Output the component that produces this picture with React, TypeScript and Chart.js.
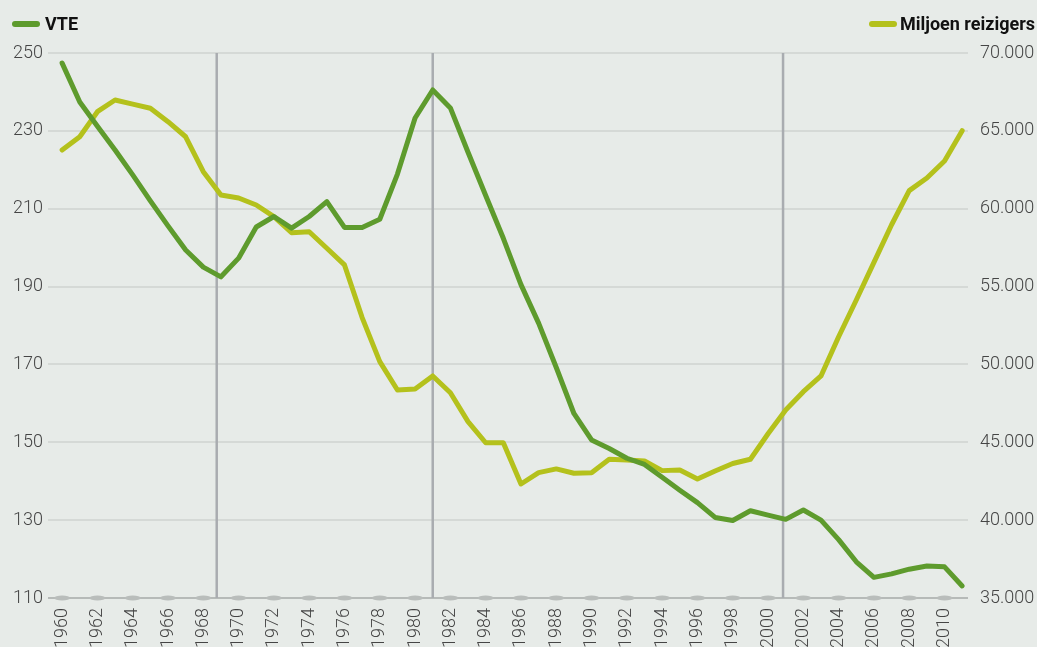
import React, { useEffect, useRef } from "react";
import { Chart, registerables } from "chart.js";

Chart.register(...registerables);

const years = [
  1960, 1961, 1962, 1963, 1964, 1965, 1966, 1967, 1968, 1969,
  1970, 1971, 1972, 1973, 1974, 1975, 1976, 1977, 1978, 1979,
  1980, 1981, 1982, 1983, 1984, 1985, 1986, 1987, 1988, 1989,
  1990, 1991, 1992, 1993, 1994, 1995, 1996, 1997, 1998, 1999,
  2000, 2001, 2002, 2003, 2004, 2005, 2006, 2007, 2008, 2009,
  2010, 2011,
];

const vte = [
  247.4, 237.4, 231.2, 225.1, 218.7, 212.0, 205.6, 199.4, 195.0, 192.5,
  197.3, 205.3, 208.0, 205.0, 208.0, 211.8, 205.2, 205.2, 207.3, 218.9,
  233.3, 240.5, 235.9, 224.5, 213.4, 202.4, 190.5, 180.6, 169.2, 157.4,
  150.6, 148.4, 145.9, 144.3, 141.0, 137.7, 134.5, 130.7, 129.9, 132.4,
  131.3, 130.2, 132.6, 130.0, 125.0, 119.3, 115.3, 116.2, 117.4, 118.2,
  118.0, 113.1,
];

const reizigers = [
  63770, 64620, 66230, 66980, 66720, 66450, 65590, 64620, 62380, 60880,
  60690, 60240, 59490, 58460, 58520, 57460, 56390, 53010, 50180, 48360,
  48420, 49260, 48180, 46330, 44970, 44970, 42320, 43050, 43290, 43010,
  43050, 43910, 43860, 43800, 43180, 43220, 42640, 43160, 43640, 43910,
  45550, 47070, 48250, 49260, 51780, 54140, 56550, 58970, 61160, 61970,
  63060, 65010,
];

const xTickYears = [
  1960, 1962, 1964, 1966, 1968, 1970, 1972, 1974, 1976, 1978, 1980, 1982,
  1984, 1986, 1988, 1990, 1992, 1994, 1996, 1998, 2000, 2002, 2004, 2006,
  2008, 2010,
];

const markerYears = [1968.76, 1981.0, 2000.85];

const seriesNames = ["VTE", "Miljoen reizigers"];

const BG = "#e7ebe8";
const GREEN = "#5e9b2d";
const YELLOW = "#b4c11c";
const TICK_FONT = { family: "Roboto, 'Open Sans', sans-serif", size: 18, weight: "300" as const };

function fmtThousands(v: number): string {
  const s = String(Math.round(v));
  return s.replace(/\B(?=(\d{3})+(?!\d))/g, ".");
}

const decorPlugin = {
  id: "decor",
  beforeDatasetsDraw(chart: any) {
    const { ctx, chartArea, scales } = chart;
    const xs = scales.x;
    const yb = scales.y.getPixelForValue(110);
    ctx.save();
    // baseline tick ellipses
    ctx.fillStyle = "#b9bdbb";
    xTickYears.forEach((yr) => {
      const px = xs.getPixelForValue(yr);
      ctx.beginPath();
      ctx.ellipse(px, yb, 8, 2.6, 0, 0, Math.PI * 2);
      ctx.fill();
    });
    // vertical marker lines
    ctx.strokeStyle = "#a9acb0";
    ctx.lineWidth = 2.5;
    markerYears.forEach((yr) => {
      const px = xs.getPixelForValue(yr);
      ctx.beginPath();
      ctx.moveTo(px, chartArea.top);
      ctx.lineTo(px, chartArea.bottom);
      ctx.stroke();
    });
    ctx.restore();
  },
};

export default function App() {
  const canvasRef = useRef<HTMLCanvasElement | null>(null);

  useEffect(() => {
    document.body.style.margin = "0";
    document.body.style.background = BG;
    const canvas = canvasRef.current;
    if (!canvas) return;
    const chart = new Chart(canvas, {
      type: "line",
      data: {
        datasets: [
          {
            label: seriesNames[0],
            data: years.map((yr, i) => ({ x: yr, y: vte[i] })),
            yAxisID: "y",
            borderColor: GREEN,
            backgroundColor: GREEN,
            borderWidth: 5,
            pointRadius: 0,
            tension: 0,
            borderCapStyle: "round",
            borderJoinStyle: "round",
            order: 0,
          },
          {
            label: seriesNames[1],
            data: years.map((yr, i) => ({ x: yr, y: reizigers[i] })),
            yAxisID: "y1",
            borderColor: YELLOW,
            backgroundColor: YELLOW,
            borderWidth: 5,
            pointRadius: 0,
            tension: 0,
            borderCapStyle: "round",
            borderJoinStyle: "round",
            order: 1,
          },
        ],
      },
      options: {
        responsive: false,
        animation: false,
        layout: { padding: { top: 53, left: 0, right: 0, bottom: 0 } },
        plugins: {
          legend: { display: false },
          tooltip: { enabled: false },
        },
        scales: {
          x: {
            type: "linear",
            min: 1959.2,
            max: 2011.33,
            grid: { display: false, drawTicks: false },
            border: { display: false },
            afterBuildTicks: (scale: any) => {
              scale.ticks = xTickYears.map((v) => ({ value: v }));
            },
            afterFit: (scale: any) => {
              scale.height = 49;
            },
            ticks: {
              autoSkip: false,
              minRotation: 90,
              maxRotation: 90,
              padding: 10,
              color: "#454545",
              font: TICK_FONT,
              callback: (v: any) => String(v),
            },
          },
          y: {
            position: "left",
            min: 110,
            max: 250,
            grid: {
              drawTicks: false,
              lineWidth: 2,
              color: (c: any) => (c.tick && c.tick.value === 110 ? "#b6bab8" : "#d5d9d6"),
            },
            border: { display: false },
            afterFit: (scale: any) => {
              scale.width = 48;
            },
            ticks: {
              stepSize: 20,
              padding: 5,
              color: "#454545",
              font: TICK_FONT,
              callback: (v: any) => String(v),
            },
          },
          y1: {
            position: "right",
            min: 35000,
            max: 70000,
            grid: { display: false, drawTicks: false },
            border: { display: false },
            afterFit: (scale: any) => {
              scale.width = 69;
            },
            ticks: {
              stepSize: 5000,
              padding: 12,
              color: "#454545",
              font: TICK_FONT,
              callback: (v: any) => fmtThousands(Number(v)),
            },
          },
        },
      },
      plugins: [decorPlugin],
    } as any);
    return () => chart.destroy();
  }, []);

  const legendText: React.CSSProperties = {
    position: "absolute",
    fontFamily: "Roboto, 'Open Sans', sans-serif",
    fontWeight: 700,
    fontSize: 18,
    color: "#111",
    lineHeight: "20px",
    top: 14,
    whiteSpace: "nowrap",
  };
  const swatch = (color: string, left: number): React.CSSProperties => ({
    position: "absolute",
    left,
    top: 21,
    width: 28,
    height: 6,
    borderRadius: 3,
    background: color,
  });

  return (
    <div
      style={{
        position: "absolute",
        left: 0,
        top: 0,
        width: 1037,
        height: 647,
        background: BG,
        overflow: "hidden",
      }}
    >
      <canvas ref={canvasRef} width={1037} height={647} style={{ display: "block", position: "absolute", left: 0, top: 0 }} />
      <div style={swatch(GREEN, 12)} />
      <div style={{ ...legendText, left: 45 }}>{seriesNames[0]}</div>
      <div style={swatch(YELLOW, 869)} />
      <div style={{ ...legendText, right: 2 }}>{seriesNames[1]}</div>
    </div>
  );
}
